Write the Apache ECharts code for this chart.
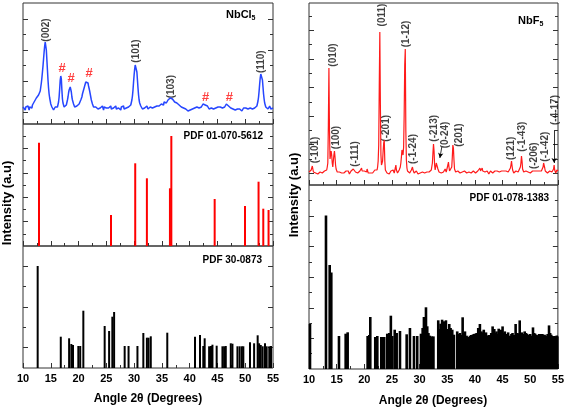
<!DOCTYPE html>
<html><head><meta charset="utf-8">
<script src="https://cdn.jsdelivr.net/npm/echarts@6/dist/echarts.min.js"></script>
<style>html,body{margin:0;padding:0;background:#fff}#c{width:567px;height:410px}</style>
</head><body><div id="c"></div>
<script>
// ---------- DATA ----------
const scanStart = 10, scanStep = 0.1;   // 2θ sampling of the measured patterns
// NbCl5 measured pattern (relative intensity)
const nbcl5Intensity = [
17,15,18,16,14,17,19,15,16,18, 16,14,17,18,15,17,16,19,18,21,
22,20,24,23,26,25,27,26,29,28, 31,33,37,41,46,52,58,65,72,78,
82,80,74,64,54,44,36,30,26,23, 20,18,17,15,17,14,16,15,17,15,
16,15,17,18,22,27,35,44,48,45, 34,25,21,19,17,18,16,18,19,21,
24,27,31,34,36,37,35,32,27,24, 22,20,18,17,19,16,17,18,17,19,
19,20,22,21,24,26,27,30,31,34, 36,38,40,42,41,43,42,41,38,36,
33,30,27,24,22,20,19,17,18,16, 16,17,15,16,18,15,16,17,15,16,
17,15,16,18,16,14,17,16,15,17, 16,15,17,14,16,17,15,16,18,15,
16,17,15,16,14,17,16,18,15,16, 17,15,16,17,15,16,14,17,16,15,
16,18,15,16,17,15,16,17,16,15, 17,16,18,17,19,21,24,28,34,42,
49,55,59,61,58,52,44,36,29,24, 21,19,18,16,17,15,16,17,15,16,
17,15,16,18,16,15,17,16,15,17, 16,15,17,16,18,16,15,17,16,17,
16,18,17,16,19,18,17,19,18,20, 19,21,20,19,22,21,20,22,21,23,
22,24,23,25,24,26,25,24,26,25, 24,23,25,22,23,21,22,21,20,21,
20,19,20,18,19,17,18,16,17,16, 15,16,14,15,16,14,15,13,15,14,
15,14,16,15,13,15,16,14,15,16, 15,16,14,17,16,15,17,16,18,17,
18,17,19,18,20,19,18,20,19,18, 19,17,18,16,17,15,16,17,15,16,
15,16,14,15,17,16,15,16,14,16, 15,17,16,15,16,17,15,16,17,16,
17,16,18,17,19,18,20,19,18,19, 18,19,17,18,16,17,15,16,15,16,
15,16,14,15,16,14,15,16,15,14, 15,14,16,15,13,15,14,16,15,14,
15,16,14,15,16,15,14,16,15,16, 15,14,16,15,16,17,15,16,17,16,
17,18,20,23,27,33,40,46,50,51, 49,44,37,30,25,21,19,17,16,17,
16,15,17,16,18,16,15,17,16,17, 16];
// NbF5 measured pattern (relative intensity)
const nbf5Intensity = [
13,12,14,13,15,17,19,16,13,12, 13,11,12,14,12,13,11,13,12,12,
13,12,11,13,12,14,13,12,14,13, 14,13,15,18,22,60,117,55,26,30,
34,30,22,18,24,30,34,28,20,16, 14,13,12,14,12,13,11,12,13,12,
13,12,14,12,11,13,12,14,13,12, 12,14,13,11,13,12,14,13,15,14,
16,18,17,15,13,14,12,13,12,14, 13,12,14,13,15,17,14,12,13,12,
14,13,15,12,13,16,14,12,13,12, 13,12,14,12,13,12,14,13,12,15,
13,14,16,15,18,24,40,100,153,80, 30,20,18,24,34,42,45,24,15,13,
13,12,14,13,12,11,13,12,14,13, 12,13,15,13,12,14,17,20,15,13,
12,14,13,15,14,18,22,28,35,33, 30,38,70,120,136,55,25,17,14,13,
12,13,12,14,13,15,17,18,15,13, 12,11,13,12,14,13,12,11,13,12,
13,12,14,13,12,13,14,12,13,12, 13,14,12,13,15,14,12,13,14,13,
14,15,17,22,32,41,34,20,15,18, 22,24,20,16,14,13,12,14,13,12,
13,12,14,13,15,14,16,15,13,14, 15,20,23,18,14,13,12,14,18,28,
40,37,25,16,14,13,12,13,12,14, 13,12,14,12,13,12,11,13,12,14,
13,14,16,15,13,12,14,13,12,13, 12,14,13,12,11,13,12,14,13,12,
13,12,14,13,12,14,15,13,16,17, 14,13,15,17,14,13,12,14,13,12,
13,12,14,13,12,11,13,12,14,13, 12,13,12,14,13,12,14,13,12,13,
14,13,12,14,13,15,13,12,14,13, 12,13,14,12,13,12,14,13,12,14,
13,14,13,15,17,20,24,19,15,13, 12,14,13,12,14,13,15,14,13,14,
13,15,18,22,29,24,16,14,13,12, 13,12,14,13,12,14,13,12,13,14,
12,13,14,13,14,16,15,16,14,13, 12,13,14,12,13,12,14,13,14,13,
14,13,15,18,22,23,17,14,13,12, 13,12,14,13,12,14,13,15,14,13,
14,13,16,20,15,13,12,14,15,16, 14];
// Reference patterns: [2θ, relative intensity]
const pdf01_070_5612 = [[12.88,103.3],[25.84,31],[30.2,82.7],[32.3,67.7],[36.45,57.7],[36.7,110],[44.5,47],[49.96,40],[52.4,64.3],[53.25,37.3],[54.2,36]];
const pdf30_0873 = [[12.64,102],[16.8,31.3],[18.3,29.7],[18.7,24],[19.0,23],[19.96,22],[20.3,22],[20.86,57.3],[24.7,42],[25.5,37],[26.08,51.3],[26.4,56],[28.3,22],[29.0,22],[30.6,22],[31.66,35],[32.3,30.3],[32.6,30.3],[33.0,31.7],[35.97,35.3],[40.96,31.3],[41.86,33],[42.45,22],[42.7,29.7],[43.5,21.7],[43.84,22],[44.1,23.3],[44.86,22.3],[45.9,21.7],[46.2,21.7],[46.5,22],[47.4,24.7],[47.7,24.3],[48.6,21.7],[49.0,21.7],[49.4,21.7],[49.66,21.7],[50.86,25.7],[51.6,24.7],[52.24,32.7],[52.5,24.7],[52.8,23],[53.14,21.7],[53.56,24.7],[53.86,21.7],[54.33,21.7],[54.64,22]];
const pdf01_078_1383 = [[10.18,45],[13.07,153.5],[13.74,104],[14.03,96.5],[15.42,33],[16.63,35.3],[16.99,36.7],
[20.6,33],[20.9,34],[21.08,52],[21.98,32],[22.35,33],[23.07,32],[23.3,32],[23.6,32],[24.15,35.3],[24.5,36],[24.8,53.3],[25.06,33],[25.5,39.3],[25.85,36],[26.45,38],[27.66,34.7],[28.25,41],[28.98,33],[29.57,33],[30.24,35.3],[30.55,41],[30.78,52],[31.15,61.7],[31.38,42.7],[31.6,36],[31.87,33.3],[32.2,32.6],[32.5,32.6],
[33.37,48.7],[33.6,40],[33.8,45.3],[34.07,49.3],[34.4,47.7],[34.76,48.7],[35.07,40],[35.36,45],[35.6,41],[35.9,39.3],[36.2,34.3],[36.8,37.6],[37.05,35],[37.3,36],[37.55,34],[37.78,51.7],[38.0,36],[38.2,37.6],[38.5,33.3],[38.8,32],[39.1,33.3],[39.35,34],[39.6,34.3],[39.8,35],[40.0,35.3],[40.3,36],[40.6,41],[40.9,45],[41.2,37.6],[41.4,36],[41.6,39.3],[41.8,35],[42.0,36.6],[42.3,33.3],[42.5,34],[42.7,32.6],[42.95,36],[43.2,42.6],[43.5,40],[43.7,36],[43.9,37.6],[44.1,35],[44.3,40.3],[44.5,36],[44.7,39.3],[45.0,42.6],[45.2,36],[45.4,37.6],[45.65,35],[46.0,36.6],[46.4,33.3],[46.6,35],[46.8,36],[47.05,34],[47.36,45],[47.5,36],[47.7,36],[47.9,35],[48.1,48.6],[48.3,36],[48.5,36.6],[48.75,35],[49.0,37.6],[49.2,36],[49.4,35.3],[49.6,34],[49.8,34.3],[50.0,35],[50.2,33.3],[50.5,41.6],[50.7,36],[50.9,35.3],[51.15,34],[51.4,33.3],[51.6,35],[51.8,34],[52.0,35],[52.2,35],[52.4,34],[52.6,34.3],[52.9,33.3],[53.15,35],[53.4,43.6],[53.6,36],[53.8,34.3],[54.0,33],[54.2,32.6],[54.4,33],[54.6,32.6],[54.8,33.5],[54.95,32.6]];
// Peak annotations: [name, 2θ, height]
const nbcl5Peaks = [['(002)',14.1,94],['(101)',30.3,73],['(103)',36.64,37.3],['(110)',52.96,62.3]];
const nbcl5Impurity = [[17.02,55.7],[18.64,45.7],[21.88,50.7],[42.88,27],[47.13,27]];
const nbf5Peaks = [['(-101)',11.08,35],['(010)',14.3,130],['(100)',15.0,47.5],['(-111)',18.4,31],['(011)',23.25,170],['(-201)',24.0,56.7],['(1-12)',27.65,151],['(-1-24)',28.85,36],['(-213)',32.6,56.7],['(0-24)',34.7,50],['(201)',37.1,50],['(121)',46.5,36.7],['(-1-43)',48.6,48.3],['(-206)',50.7,29.3],['(-1-42)',52.65,38.3],['(-4-17)',54.5,75]];
const nbf5Arrows = [[[34.0,38],[33.65,27]],[[54.3,55],[54.3,22]]];
// Axis ticks
const angleMin = 10, angleMax = 55, angleStep = 5;
const panelTicks = [
  {max:121, major:[12,43,74,105], minor:[27.5,58.5,89.5]},
  {max:122, major:[24.4,48.8,73.2,97.6], minor:[12.2,36.6,61,85.4,109.8]},
  {max:122, major:[20.3,61,101.7], minor:[40.7,81.3]},
  {max:182, major:[11.7,40.3,68.9,97.5,126.1,154.7], minor:[26,54.6,83.2,111.8,140.4,169]},
  {max:184, major:[30.6,61.2,91.8,122.4,153], minor:[15.3,45.9,76.5,107.1,137.7,168.3]}
];

// ---------- CHART ----------
const FONT = 'Liberation Sans, Arial, sans-serif';
const frame = '#333';
const toPairs = arr => arr.map((v,i) => [+(scanStart + i*scanStep).toFixed(2), v]);
const gridBoxes = [
  {left:23, top:3, width:250, height:121},
  {left:23, top:124, width:250, height:122},
  {left:23, top:246, width:250, height:122},
  {left:309, top:3, width:249, height:182},
  {left:309, top:185, width:249, height:184}
];
const grid = gridBoxes.map(b => Object.assign({show:true, borderColor:frame, borderWidth:1, backgroundColor:'transparent'}, b));
const xAxis = gridBoxes.map((b,i) => ({
  type:'value', gridIndex:i, min:angleMin, max:angleMax, interval:angleStep,
  axisLine:{show:false},
  axisTick:{show:true, inside:true, length:5, lineStyle:{color:frame}},
  minorTick:{show:true, splitNumber:2, length:3, lineStyle:{color:frame}},
  splitLine:{show:false}, minorSplitLine:{show:false},
  axisLabel:{show:(i===2||i===4), margin:5, fontSize:11, fontWeight:'bold', color:'#000', fontFamily:FONT}
}));
const yAxis = [];
panelTicks.forEach((t,i) => {
  const base = {type:'value', gridIndex:i, min:0, max:t.max, axisLine:{show:false}, axisLabel:{show:false}, splitLine:{show:false}};
  ['left','right'].forEach(pos => {
    yAxis.push(Object.assign({}, base, {position:pos, axisTick:{show:true, inside:true, length:5, customValues:t.major, lineStyle:{color:frame}}}));
    yAxis.push(Object.assign({}, base, {position:pos, axisTick:{show:true, inside:true, length:3, customValues:t.minor, lineStyle:{color:frame}}}));
  });
});
const peakLabel = (names) => ({
  type:'scatter', symbolSize:0, silent:true,
  data:names.map(p => ({name:p[0], value:[p[1],p[2]]})),
  label:{show:true, formatter:'{b}', rotate:90, position:'inside', align:'center', verticalAlign:'middle', fontSize:10, fontWeight:'bold', color:'#111', fontFamily:FONT}
});
const series = [
  {type:'line', xAxisIndex:0, yAxisIndex:0, data:toPairs(nbcl5Intensity), symbol:'none', lineStyle:{color:'#2646ff', width:1.5}, itemStyle:{color:'#2646ff'}},
  Object.assign(peakLabel(nbcl5Peaks), {xAxisIndex:0, yAxisIndex:0}),
  {type:'scatter', xAxisIndex:0, yAxisIndex:0, symbolSize:0, silent:true, data:nbcl5Impurity,
   label:{show:true, formatter:'#', position:'inside', align:'center', verticalAlign:'middle', fontSize:13, fontWeight:'bold', color:'#ff1010', fontFamily:FONT}},
  {type:'bar', xAxisIndex:1, yAxisIndex:4, data:pdf01_070_5612, barWidth:2, itemStyle:{color:'#ff0000'}},
  {type:'bar', xAxisIndex:2, yAxisIndex:8, data:pdf30_0873, barWidth:2, itemStyle:{color:'#000'}},
  {type:'line', xAxisIndex:3, yAxisIndex:12, data:toPairs(nbf5Intensity), symbol:'none', lineStyle:{color:'#ff1a1a', width:1.2}, itemStyle:{color:'#ff1a1a'},
   markLine:{silent:true, symbol:['none','arrow'], symbolSize:[4,5], label:{show:false}, lineStyle:{color:'#000', width:0.8, type:'solid'},
     data:nbf5Arrows.map(a => [{coord:a[0]},{coord:a[1]}])}},
  Object.assign(peakLabel(nbf5Peaks), {xAxisIndex:3, yAxisIndex:12}),
  {type:'bar', xAxisIndex:4, yAxisIndex:16, data:pdf01_078_1383, barWidth:2.6, itemStyle:{color:'#000'}}
];
const txt = (x,y,text,font) => ({type:'text', x:x, y:y, silent:true, style:{text:text, font:font, fill:'#000', align:'left', verticalAlign:'middle'}});
const graphic = [
  txt(226,15,'NbCl','bold 11px '+FONT),
  txt(251.5,18.5,'5','bold 7px '+FONT),
  txt(518,21,'NbF','bold 11px '+FONT),
  txt(539.5,24.5,'5','bold 7px '+FONT),
  {type:'text', x:263, y:136, silent:true, style:{text:'PDF 01-070-5612', font:'bold 10px '+FONT, fill:'#000', align:'right', verticalAlign:'middle'}},
  {type:'text', x:262, y:260.5, silent:true, style:{text:'PDF 30-0873', font:'bold 10px '+FONT, fill:'#000', align:'right', verticalAlign:'middle'}},
  {type:'text', x:549, y:198, silent:true, style:{text:'PDF 01-078-1383', font:'bold 10px '+FONT, fill:'#000', align:'right', verticalAlign:'middle'}},
  {type:'text', x:7, y:203, rotation:Math.PI/2, silent:true, style:{text:'Intensity (a.u)', font:'bold 13px '+FONT, fill:'#000', align:'center', verticalAlign:'middle'}},
  {type:'text', x:294.5, y:195, rotation:Math.PI/2, silent:true, style:{text:'Intensity (a.u)', font:'bold 13px '+FONT, fill:'#000', align:'center', verticalAlign:'middle'}},
  {type:'text', x:148, y:399, silent:true, style:{text:'Angle 2θ (Degrees)', font:'bold 12px '+FONT, fill:'#000', align:'center', verticalAlign:'middle'}},
  {type:'text', x:433, y:401, silent:true, style:{text:'Angle 2θ (Degrees)', font:'bold 12px '+FONT, fill:'#000', align:'center', verticalAlign:'middle'}}
];
const chart = echarts.init(document.getElementById('c'), null, {renderer:'canvas'});
chart.setOption({animation:false, backgroundColor:'#fff', grid:grid, xAxis:xAxis, yAxis:yAxis, series:series, graphic:graphic});
</script>
</body></html>
